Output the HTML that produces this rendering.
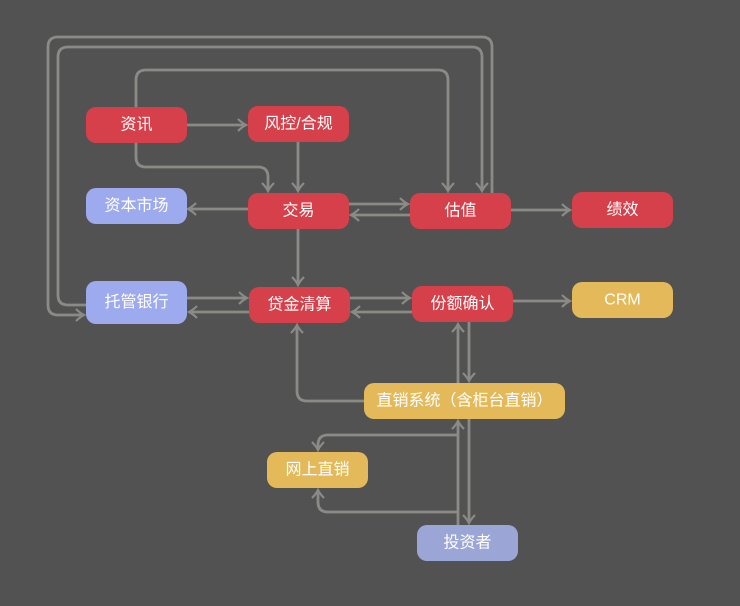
<!DOCTYPE html>
<html><head><meta charset="utf-8"><style>
html,body{margin:0;padding:0;background:#525252;}
svg{display:block}
text{font-family:"Liberation Sans","Noto Sans CJK SC",sans-serif;font-size:16px;fill:#fff;text-anchor:middle;dominant-baseline:central}
</style></head><body>
<svg width="740" height="606" viewBox="0 0 740 606" xmlns="http://www.w3.org/2000/svg">
<defs>
<marker id="a" viewBox="0 0 14 14" refX="11" refY="7" markerWidth="14" markerHeight="14" markerUnits="userSpaceOnUse" orient="auto">
<path d="M3,1 Q7,5 11,7 Q7,9 3,13" fill="none" stroke="#8a8a86" stroke-width="2.2"/>
</marker>
</defs>
<g fill="none" stroke="#8a8a86" stroke-width="2.8" marker-end="url(#a)">
<path d="M187,125 H246"/>
<path d="M298,142 V191"/>
<path d="M136,143 V157 Q136,167 146,167 H258 Q268,167 268,177 V191"/>
<path d="M136,107 V80 Q136,70 146,70 H438 Q448,70 448,80 V191"/>
<path d="M349,204 H408"/>
<path d="M410,215 H351"/>
<path d="M248,209 H188"/>
<path d="M298,229 V285"/>
<path d="M511,210 H570"/>
<path d="M492,193 V47 Q492,37 482,37 H58 Q48,37 48,47 V305 Q48,315 58,315 H84"/>
<path d="M86,305 H68 Q58,305 58,295 V57 Q58,47 68,47 H472 Q482,47 482,57 V191"/>
<path d="M187,298 H247"/>
<path d="M249,312 H189"/>
<path d="M350,298 H410"/>
<path d="M412,312 H352"/>
<path d="M513,301 H570"/>
<path d="M458,383 V324"/>
<path d="M469,322 V381"/>
<path d="M364,401 H307 Q297,401 297,391 V325"/>
<path d="M458,525 V421"/>
<path d="M469,419 V523"/>
<path d="M458,435 H328 Q318,435 318,445 V450"/>
<path d="M458,512 H328 Q318,512 318,502 V490"/>
</g>
<g>
<rect x="86" y="107" width="101" height="36" rx="10" fill="#d6404a"/><text x="136.5" y="125">资讯</text>
<rect x="248" y="106" width="101" height="36" rx="10" fill="#d6404a"/><text x="298.5" y="124">风控/合规</text>
<rect x="86" y="188" width="101" height="36" rx="10" fill="#9daaee"/><text x="136.5" y="206">资本市场</text>
<rect x="248" y="193" width="101" height="36" rx="10" fill="#d6404a"/><text x="298.5" y="211">交易</text>
<rect x="410" y="193" width="101" height="36" rx="10" fill="#d6404a"/><text x="460.5" y="211">估值</text>
<rect x="572" y="192" width="101" height="36" rx="10" fill="#d6404a"/><text x="622.5" y="210">绩效</text>
<rect x="86" y="281" width="101" height="43" rx="10" fill="#9daaee"/><text x="136.5" y="302.5">托管银行</text>
<rect x="249" y="287" width="101" height="36" rx="10" fill="#d6404a"/><text x="299.5" y="305">贷金清算</text>
<rect x="412" y="286" width="101" height="36" rx="10" fill="#d6404a"/><text x="462.5" y="304">份额确认</text>
<rect x="572" y="282" width="101" height="36" rx="10" fill="#e4b95a"/><text x="622.5" y="300">CRM</text>
<rect x="364" y="383" width="201" height="36" rx="10" fill="#e4b95a"/><text x="464.5" y="401">直销系统（含柜台直销）</text>
<rect x="267" y="452" width="101" height="36" rx="10" fill="#e4b95a"/><text x="317.5" y="470">网上直销</text>
<rect x="417" y="525" width="101" height="36" rx="10" fill="#9ba6d6"/><text x="467.5" y="543">投资者</text>
</g>
</svg>
</body></html>
